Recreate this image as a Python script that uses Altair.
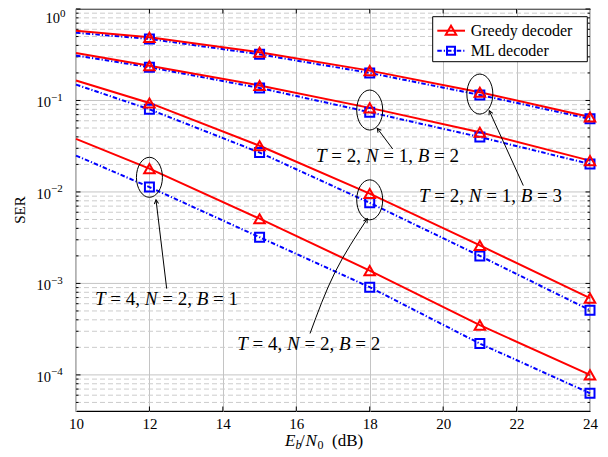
import math
import altair as alt
import pandas as pd

# ---------------- data ----------------
snr = [10, 12, 15, 18, 21, 24]
greedy_T2N1B3 = [0.58, 0.49, 0.336, 0.212, 0.123, 0.066]
ml_T2N1B3 = [0.55, 0.471, 0.32, 0.200, 0.115, 0.063]
greedy_T2N1B2 = [0.33, 0.24, 0.146, 0.083, 0.045, 0.022]
ml_T2N1B2 = [0.31, 0.231, 0.137, 0.0745, 0.0398, 0.0202]
greedy_T4N2B2 = [0.165, 0.094, 0.032, 0.0096, 0.0026, 0.00069]
ml_T4N2B2 = [0.149, 0.080, 0.027, 0.0076, 0.0020, 0.00051]
greedy_T4N2B1 = [0.038, 0.018, 0.0051, 0.00138, 0.00035, 0.0001]
ml_T4N2B1 = [0.025, 0.0113, 0.0032, 0.00091, 0.00022, 0.000063]

marker_snr = [12, 15, 18, 21, 24]
x_ticks = [10, 12, 14, 16, 18, 20, 22, 24]
y_major = [1e-4, 1e-3, 1e-2, 1e-1, 1.0]
y_exp = [-4, -3, -2, -1, 0]
legend_labels = ["Greedy decoder", "ML decoder"]
y_title = "SER"

# annotation labels (text anchor = left/baseline, in data units)
ann_s0 = ["T", "T", "T", "T"]
ann_s1 = ["= 2,", "= 2,", "= 4,", "= 4,"]
ann_s2 = ["N", "N", "N", "N"]
ann_s3 = ["= 1,", "= 1,", "= 2,", "= 2,"]
ann_s4 = ["B", "B", "B", "B"]
ann_s5 = ["= 2", "= 3", "= 1", "= 2"]
ann_x = [16.537, 19.342, 10.517, 14.393]
ann_y = [0.02146, 0.00786, 5.77e-4, 1.888e-4]

# ellipse centres
ell_x = [18, 21, 12, 18]
ell_y = [0.0786, 0.1175, 0.01446, 0.0082]

# arrows (points from label to ellipse)
arrow_id = ["a", "a", "b", "b", "c", "c", "d", "d", "d"]
arrow_x = [18.626, 18.207, 22.183, 21.257, 12.470, 12.179, 16.374, 17.054, 17.934]
arrow_y = [0.02951, 0.04951, 0.01174, 0.0772, 8.77e-4, 0.0082, 2.835e-4, 1.321e-3, 5.09e-3]

# ---------------- styling ----------------
SERIF = "Liberation Serif"
RED = "#ff0000"
BLUE = "#0000ff"
W, H = 514, 402
YMIN = 4.03e-5

xscale = alt.Scale(domain=[10, 24], nice=False, zero=False)
yscale = alt.Scale(type="log", domain=[YMIN, 1], nice=False)
xaxis = alt.Axis(values=x_ticks, grid=True, gridColor="#c4c4c4", gridWidth=1,
                 ticks=False, domain=False, labelFont=SERIF, labelFontSize=15,
                 labelColor="black", labelPadding=5, title=None, labelFlush=False)


def X(f):
    return alt.X(f"{f}:Q", scale=xscale, axis=xaxis)


def Y(f):
    return alt.Y(f"{f}:Q", scale=yscale, axis=None)


def px(x):
    return (x - 10) / 14 * W


def py(y):
    return -math.log10(y) / (-math.log10(YMIN)) * H


rows = []
for name, g, m in [("A", greedy_T2N1B3, ml_T2N1B3), ("B", greedy_T2N1B2, ml_T2N1B2),
                   ("C", greedy_T4N2B2, ml_T4N2B2), ("D", greedy_T4N2B1, ml_T4N2B1)]:
    for xv, gv, mv in zip(snr, g, m):
        rows.append(dict(curve=name, dec="Greedy", x=xv, y=gv, mark=xv in marker_snr))
        rows.append(dict(curve=name, dec="ML", x=xv, y=mv, mark=xv in marker_snr))
df = pd.DataFrame(rows)
df_g = df[df.dec == "Greedy"]
df_m = df[df.dec == "ML"]

minor = [m * 10 ** k for k in range(-5, 0) for m in range(2, 10) if m * 10 ** k >= YMIN]
df_minor = pd.DataFrame({"v": minor})
df_major = pd.DataFrame({"v": y_major, "e": y_exp})
df_major["sup"] = ["\u2212" + str(-e) if e < 0 else "0" for e in y_exp]
df_xt = pd.DataFrame({"v": x_ticks[1:-1]})
one = pd.DataFrame({"k": [0]})

layers = []
# grids
layers.append(alt.Chart(df_minor).mark_rule(color="#cccccc", strokeWidth=1, strokeDash=[5, 3]).encode(
    y=Y("v"), x=alt.value(0), x2=alt.value(W)))
layers.append(alt.Chart(df_major).mark_rule(color="#c4c4c4", strokeWidth=1).encode(
    y=Y("v"), x=alt.value(0), x2=alt.value(W)))
# inward ticks
for x0, x1, d in [(0, 4.5, df_major), (W - 4.5, W, df_major), (0, 2.5, df_minor), (W - 2.5, W, df_minor)]:
    layers.append(alt.Chart(d).mark_rule(color="black", strokeWidth=1).encode(
        y=Y("v"), x=alt.value(x0), x2=alt.value(x1)))
for y0, y1 in [(H, H - 4.5), (0, 4.5)]:
    layers.append(alt.Chart(df_xt).mark_rule(color="black", strokeWidth=1).encode(
        x=X("v"), y=alt.value(y0), y2=alt.value(y1)))

# curves
layers.append(alt.Chart(df_m).mark_line(color=BLUE, strokeWidth=2, strokeDash=[4.5, 2, 1.2, 2]).encode(
    x=X("x"), y=Y("y"), detail="curve:N"))
layers.append(alt.Chart(df_g).mark_line(color=RED, strokeWidth=2).encode(
    x=X("x"), y=Y("y"), detail="curve:N"))
layers.append(alt.Chart(df_m).transform_filter("datum.mark").mark_point(
    shape="square", size=81, filled=False, color=BLUE, strokeWidth=2, opacity=1).encode(x=X("x"), y=Y("y")))
layers.append(alt.Chart(df_g).transform_filter("datum.mark").mark_point(
    shape="triangle-up", size=110, filled=False, color=RED, strokeWidth=2, opacity=1).encode(x=X("x"), y=Y("y")))

# ellipses
ELL = ("M0,-1C0.359,-1 0.65,-0.552 0.65,0C0.65,0.552 0.359,1 0,1"
       "C-0.359,1 -0.65,0.552 -0.65,0C-0.65,-0.552 -0.359,-1 0,-1Z")
df_ell = pd.DataFrame({"x": ell_x, "y": ell_y})
layers.append(alt.Chart(df_ell).mark_point(shape=ELL, size=1600, filled=False, color="black",
                                           strokeWidth=1, opacity=1).encode(x=X("x"), y=Y("y")))

# arrows
df_arr = pd.DataFrame({"id": arrow_id, "x": arrow_x, "y": arrow_y})
layers.append(alt.Chart(df_arr).mark_line(color="black", strokeWidth=1, interpolate="natural").encode(
    x=X("x"), y=Y("y"), detail="id:N"))
heads = []
for aid in sorted(set(arrow_id)):
    pts = [(x, y) for i, x, y in zip(arrow_id, arrow_x, arrow_y) if i == aid]
    (xa, ya), (xb, yb) = pts[-2], pts[-1]
    dx, dy = px(xb) - px(xa), py(yb) - py(ya)
    ang = math.degrees(math.atan2(dx, -dy)) % 360
    heads.append(dict(x=xb, y=yb, ang=ang))
ARROW = "M-0.7,1.3L0,0L0.7,1.3"
layers.append(alt.Chart(pd.DataFrame(heads)).mark_point(shape=ARROW, size=36, filled=False, color="black",
                                                        strokeWidth=1, opacity=1).encode(
    x=X("x"), y=Y("y"), angle=alt.Angle("ang:Q", scale=None)))

# annotation text
df_ann = pd.DataFrame({"x": ann_x, "y": ann_y, "s0": ann_s0, "s1": ann_s1, "s2": ann_s2,
                       "s3": ann_s3, "s4": ann_s4, "s5": ann_s5})
offs = [0, 15.3, 49.8, 67.2, 101.7, 118.0]
for i in range(6):
    layers.append(alt.Chart(df_ann).mark_text(
        align="left", baseline="alphabetic", dx=offs[i], font=SERIF, fontSize=19,
        fontStyle="italic" if i % 2 == 0 else "normal", color="black").encode(
        x=X("x"), y=Y("y"), text=f"s{i}:N"))

# y tick labels 10^k
layers.append(alt.Chart(df_major).transform_filter("datum.e < 0").mark_text(
    align="right", baseline="middle", dy=3, font=SERIF, fontSize=14.5, color="black").encode(
    x=alt.value(-25), y=Y("v"), text=alt.value("10")))
layers.append(alt.Chart(df_major).transform_filter("datum.e < 0").mark_text(
    align="left", baseline="middle", dy=-2.5, font=SERIF, fontSize=11, color="black").encode(
    x=alt.value(-25), y=Y("v"), text="sup:N"))
layers.append(alt.Chart(df_major).transform_filter("datum.e == 0").mark_text(
    align="right", baseline="middle", dy=10, font=SERIF, fontSize=14.5, color="black").encode(
    x=alt.value(-16), y=Y("v"), text=alt.value("10")))
layers.append(alt.Chart(df_major).transform_filter("datum.e == 0").mark_text(
    align="left", baseline="middle", dy=4.5, font=SERIF, fontSize=11, color="black").encode(
    x=alt.value(-16), y=Y("v"), text="sup:N"))

# axis titles
layers.append(alt.Chart(one).mark_text(angle=270, font=SERIF, fontSize=15, color="black").encode(
    x=alt.value(-56), y=alt.value(H / 2), text=alt.value(y_title)))
TB = 436.5
for txt, xx, yy, fs, st in [("E", 209, TB, 17, "italic"), ("b", 219.5, TB + 3.5, 12, "italic"),
                            ("/", 224, TB, 17, "normal"), ("N", 229.5, TB, 17, "italic"),
                            ("0", 241.5, TB + 3.5, 12, "normal"), ("(dB)", 256, TB, 17, "normal")]:
    layers.append(alt.Chart(one).mark_text(align="left", baseline="alphabetic", font=SERIF, fontSize=fs,
                                           fontStyle=st, color="black").encode(
        x=alt.value(xx), y=alt.value(yy), text=alt.value(txt)))

# legend
layers.append(alt.Chart(one).mark_rect(fill="white", stroke="black", strokeWidth=1).encode(
    x=alt.value(356.7), x2=alt.value(511.3), y=alt.value(7.7), y2=alt.value(52.7)))
layers.append(alt.Chart(one).mark_rule(color=RED, strokeWidth=2).encode(
    x=alt.value(361.3), x2=alt.value(389), y=alt.value(21.7)))
layers.append(alt.Chart(one).mark_rule(color=BLUE, strokeWidth=2, strokeDash=[4.5, 2, 1.2, 2]).encode(
    x=alt.value(361.3), x2=alt.value(389), y=alt.value(41.7)))
layers.append(alt.Chart(one).mark_point(shape="triangle-up", size=110, filled=False, color=RED,
                                        strokeWidth=2, opacity=1).encode(x=alt.value(375), y=alt.value(21.2)))
layers.append(alt.Chart(one).mark_point(shape="square", size=64, filled=False, color=BLUE,
                                        strokeWidth=2, opacity=1).encode(x=alt.value(375), y=alt.value(41.7)))
for lab, yy in zip(legend_labels, [26.5, 46.5]):
    layers.append(alt.Chart(one).mark_text(align="left", baseline="alphabetic", font=SERIF, fontSize=16,
                                           color="black").encode(
        x=alt.value(394.7), y=alt.value(yy), text=alt.value(lab)))

chart = alt.layer(*layers).properties(
    width=W, height=H,
    padding={"left": 68, "top": 1, "right": 10, "bottom": 45},
    autosize=alt.AutoSizeParams(type="none"),
).configure_view(stroke="black", strokeWidth=1.2)

chart.save("out.html", embed_options={"renderer": "svg", "actions": False})
